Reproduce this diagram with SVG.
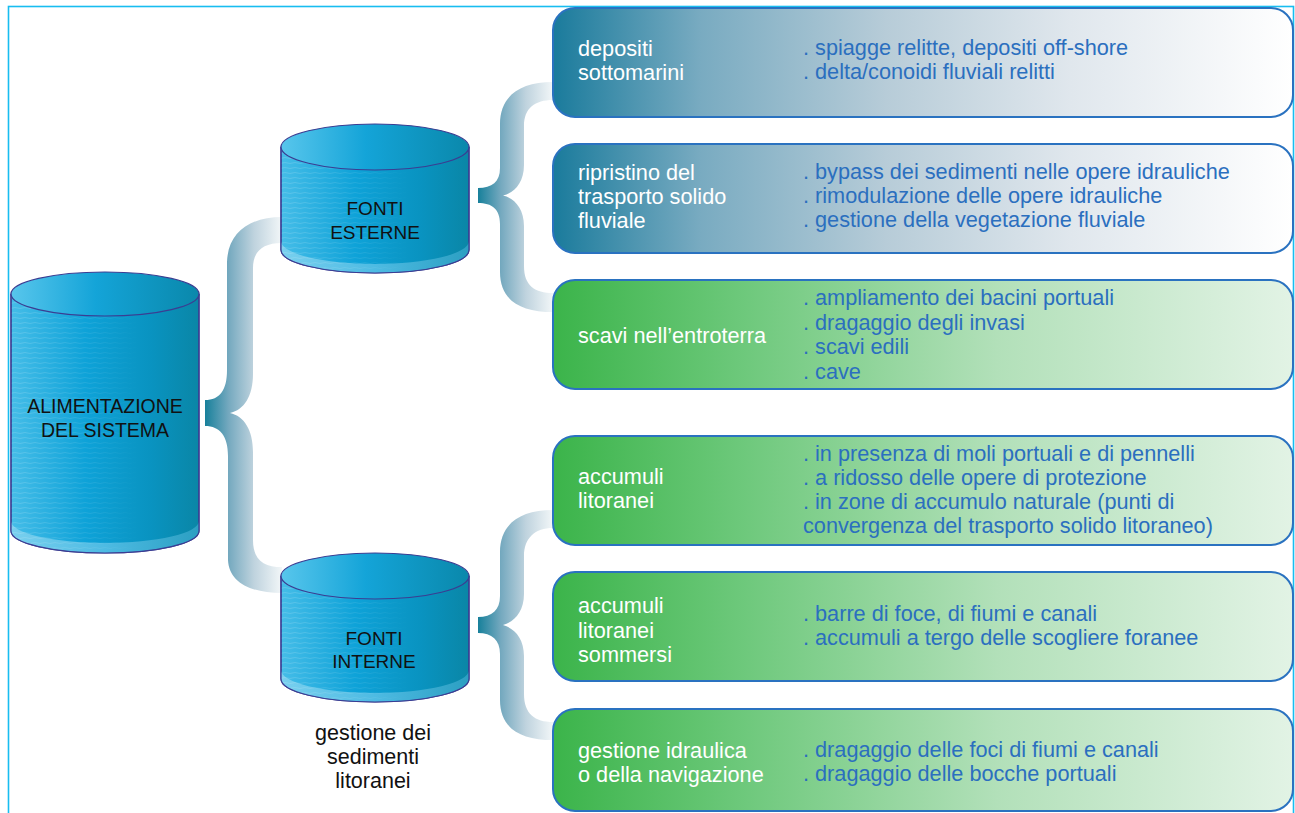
<svg xmlns="http://www.w3.org/2000/svg" width="1295" height="813" viewBox="0 0 1295 813">
<defs>
<style>
.cyl-body{fill:url(#cylBody);stroke:#3b3d92;stroke-width:1.2}
.cyl-top{fill:url(#cylTop);stroke:#3b3d92;stroke-width:1.2}
.cyl-band{fill:url(#cylBand)}
.cyl-tex{fill:url(#stripes)}
.cyl-txt{font-family:"Liberation Sans",Arial,sans-serif;font-size:19.5px;fill:#111;text-anchor:middle}
.box{stroke:#2a72c0;stroke-width:2}
.blue{fill:url(#blueBox)}
.green{fill:url(#greenBox)}
.lt{font-family:"Liberation Sans",Arial,sans-serif;font-size:21.7px;fill:#ffffff}
.rt{font-family:"Liberation Sans",Arial,sans-serif;font-size:21.7px;fill:#2b6fbf}
.cap{font-family:"Liberation Sans",Arial,sans-serif;font-size:21.5px;fill:#111;text-anchor:middle}
</style>
<linearGradient id="cylBody" x1="0" y1="0" x2="1" y2="0">
<stop offset="0" stop-color="#45bde8"/>
<stop offset="0.4" stop-color="#0ea2d8"/>
<stop offset="0.75" stop-color="#0993c0"/>
<stop offset="1" stop-color="#0a86a6"/>
</linearGradient>
<linearGradient id="cylTop" x1="0" y1="0" x2="1" y2="0">
<stop offset="0" stop-color="#58c6ec"/>
<stop offset="0.45" stop-color="#14a4d8"/>
<stop offset="1" stop-color="#0a88ab"/>
</linearGradient>
<linearGradient id="cylBand" x1="0" y1="0" x2="1" y2="0">
<stop offset="0" stop-color="#79d0ef"/>
<stop offset="0.5" stop-color="#4dbbe3"/>
<stop offset="1" stop-color="#2c9fc2"/>
</linearGradient>
<pattern id="stripes" width="10" height="5" patternUnits="userSpaceOnUse">
<path d="M0 3.5 Q5 1.5 10 3.5" fill="none" stroke="#ffffff" stroke-opacity="0.16" stroke-width="1"/>
</pattern>
<linearGradient id="fadeGrad" x1="0" y1="0" x2="1" y2="0">
<stop offset="0" stop-color="#fff"/>
<stop offset="0.45" stop-color="#fff" stop-opacity="0.5"/>
<stop offset="0.7" stop-color="#fff" stop-opacity="0"/>
</linearGradient>
<mask id="fade" maskContentUnits="objectBoundingBox">
<rect x="0" y="0" width="1" height="1" fill="url(#fadeGrad)"/>
</mask>
<linearGradient id="blueBox" x1="0" y1="0" x2="1" y2="0">
<stop offset="0" stop-color="#1a7b9c"/>
<stop offset="0.2" stop-color="#79abc1"/>
<stop offset="0.45" stop-color="#b7ccd8"/>
<stop offset="0.7" stop-color="#e0e7ed"/>
<stop offset="1" stop-color="#ffffff"/>
</linearGradient>
<linearGradient id="greenBox" x1="0" y1="0" x2="1" y2="0">
<stop offset="0" stop-color="#3bb44a"/>
<stop offset="0.25" stop-color="#6cc87a"/>
<stop offset="0.6" stop-color="#b2e0b9"/>
<stop offset="1" stop-color="#e2f3e5"/>
</linearGradient>
<linearGradient id="braceA" gradientUnits="userSpaceOnUse" x1="205" y1="0" x2="284" y2="0">
<stop offset="0" stop-color="#17809b"/>
<stop offset="0.3" stop-color="#75a9bf"/>
<stop offset="0.62" stop-color="#bfd3de"/>
<stop offset="1" stop-color="#f6f9fa"/>
</linearGradient>
<linearGradient id="braceB" gradientUnits="userSpaceOnUse" x1="478" y1="0" x2="555" y2="0">
<stop offset="0" stop-color="#17809b"/>
<stop offset="0.3" stop-color="#75a9bf"/>
<stop offset="0.62" stop-color="#bfd3de"/>
<stop offset="1" stop-color="#f6f9fa"/>
</linearGradient>
</defs>

<rect x="8.5" y="6.5" width="1285" height="830" fill="none" stroke="#18bdf0" stroke-width="1.6"/>

<g id="connectors">
<path fill="url(#braceA)" d="M282 217 C250 217 228 232 227 262 L227 370 C227 390 220 400 205 400 L205 426 C220 426 228 436 228 456 L228 560 C229 582 250 593 282 593 L282 567 C264 567 253 560 253 540 L253 452 C253 430 244 416 230 413 C244 410 253 396 253 374 L253 268 C253 252 262 243 282 243 Z"/>
<path fill="url(#braceB)" d="M553 82 C520 82 500 96 500 124 L500 168 C500 182 492 188 478 188 L478 203 C492 203 500 209 500 224 L500 272 C500 300 520 312 553 312 L553 293 C535 293 524 286 524 266 L524 226 C524 208 514 198 503 195.5 C514 193 524 183 524 165 L524 126 C524 108 535 100 553 100 Z"/>
<path fill="url(#braceB)" d="M553 510 C520 510 500 524 500 552 L500 596 C500 610 492 617 478 617 L478 633 C492 633 500 640 500 654 L500 700 C500 728 520 740 553 740 L553 722 C535 722 524 714 524 694 L524 656 C524 638 514 628 503 625 C514 622 524 612 524 594 L524 556 C524 538 535 528 553 528 Z"/>
</g>

<g id="alimentazione">
<path class="cyl-body" d="M11 294 L11 531 A94 22 0 0 0 199 531 L199 294 Z"/>
<path class="cyl-band" d="M11 521 A94 22 0 0 0 199 521 L199 531 A94 22 0 0 1 11 531 Z"/>
<rect class="cyl-tex" x="11" y="296" width="188" height="255" mask="url(#fade)"/>
<path d="M11 294 L11 531 A94 22 0 0 0 199 531 L199 294" fill="none" stroke="#3b3d92" stroke-width="1.2"/>
<ellipse class="cyl-top" cx="105" cy="294" rx="94" ry="22"/>
<text class="cyl-txt" x="105" y="413">ALIMENTAZIONE</text>
<text class="cyl-txt" x="105" y="437">DEL SISTEMA</text>
</g>

<g id="fonti-esterne">
<path class="cyl-body" d="M281 147 L281 250 A94 23 0 0 0 469 250 L469 147 Z"/>
<path class="cyl-band" d="M281 241 A94 23 0 0 0 469 241 L469 250 A94 23 0 0 1 281 250 Z"/>
<rect class="cyl-tex" x="281" y="150" width="188" height="123" mask="url(#fade)"/>
<path d="M281 147 L281 250 A94 23 0 0 0 469 250 L469 147" fill="none" stroke="#3b3d92" stroke-width="1.2"/>
<ellipse class="cyl-top" cx="375" cy="147" rx="94" ry="23"/>
<text class="cyl-txt" x="375" y="215" style="font-size:19px">FONTI</text>
<text class="cyl-txt" x="375" y="239" style="font-size:19px">ESTERNE</text>
</g>

<g id="fonti-interne">
<path class="cyl-body" d="M281 576 L281 679 A94 23 0 0 0 469 679 L469 576 Z"/>
<path class="cyl-band" d="M281 670 A94 23 0 0 0 469 670 L469 679 A94 23 0 0 1 281 679 Z"/>
<rect class="cyl-tex" x="281" y="579" width="188" height="123" mask="url(#fade)"/>
<path d="M281 576 L281 679 A94 23 0 0 0 469 679 L469 576" fill="none" stroke="#3b3d92" stroke-width="1.2"/>
<ellipse class="cyl-top" cx="375" cy="576" rx="94" ry="23"/>
<text class="cyl-txt" x="374" y="645" style="font-size:19px">FONTI</text>
<text class="cyl-txt" x="374" y="668" style="font-size:19px">INTERNE</text>
</g>

<g id="caption-interne">
<text class="cap" x="373" y="740">gestione dei</text>
<text class="cap" x="373" y="764">sedimenti</text>
<text class="cap" x="373" y="788">litoranei</text>
</g>

<g id="box-depositi">
<rect class="box blue" x="553" y="8" width="740" height="109" rx="22"/>
<text class="lt" x="578" y="56">depositi</text>
<text class="lt" x="578" y="80">sottomarini</text>
<text class="rt" x="803" y="55">. spiagge relitte, depositi off-shore</text>
<text class="rt" x="803" y="79">. delta/conoidi fluviali relitti</text>
</g>

<g id="box-ripristino">
<rect class="box blue" x="553" y="144" width="740" height="109" rx="22"/>
<text class="lt" x="578" y="180">ripristino del</text>
<text class="lt" x="578" y="204">trasporto solido</text>
<text class="lt" x="578" y="228">fluviale</text>
<text class="rt" x="803" y="179">. bypass dei sedimenti nelle opere idrauliche</text>
<text class="rt" x="803" y="203">. rimodulazione delle opere idrauliche</text>
<text class="rt" x="803" y="227">. gestione della vegetazione fluviale</text>
</g>

<g id="box-scavi">
<rect class="box green" x="553" y="280" width="740" height="109" rx="22"/>
<text class="lt" x="578" y="343">scavi nell’entroterra</text>
<text class="rt" x="803" y="305">. ampliamento dei bacini portuali</text>
<text class="rt" x="803" y="330">. dragaggio degli invasi</text>
<text class="rt" x="803" y="354">. scavi edili</text>
<text class="rt" x="803" y="379">. cave</text>
</g>

<g id="box-accumuli">
<rect class="box green" x="553" y="436" width="740" height="109" rx="22"/>
<text class="lt" x="578" y="484">accumuli</text>
<text class="lt" x="578" y="508">litoranei</text>
<text class="rt" x="803" y="461">. in presenza di moli portuali e di pennelli</text>
<text class="rt" x="803" y="485">. a ridosso delle opere di protezione</text>
<text class="rt" x="803" y="509">. in zone di accumulo naturale (punti di</text>
<text class="rt" x="803" y="533">convergenza del trasporto solido litoraneo)</text>
</g>

<g id="box-sommersi">
<rect class="box green" x="553" y="572" width="740" height="109" rx="22"/>
<text class="lt" x="578" y="613">accumuli</text>
<text class="lt" x="578" y="638">litoranei</text>
<text class="lt" x="578" y="662">sommersi</text>
<text class="rt" x="803" y="621">. barre di foce, di fiumi e canali</text>
<text class="rt" x="803" y="645">. accumuli a tergo delle scogliere foranee</text>
</g>

<g id="box-gestione">
<rect class="box green" x="553" y="709" width="740" height="102" rx="22"/>
<text class="lt" x="578" y="758">gestione idraulica</text>
<text class="lt" x="578" y="782">o della navigazione</text>
<text class="rt" x="803" y="757">. dragaggio delle foci di fiumi e canali</text>
<text class="rt" x="803" y="781">. dragaggio delle bocche portuali</text>
</g>
</svg>
